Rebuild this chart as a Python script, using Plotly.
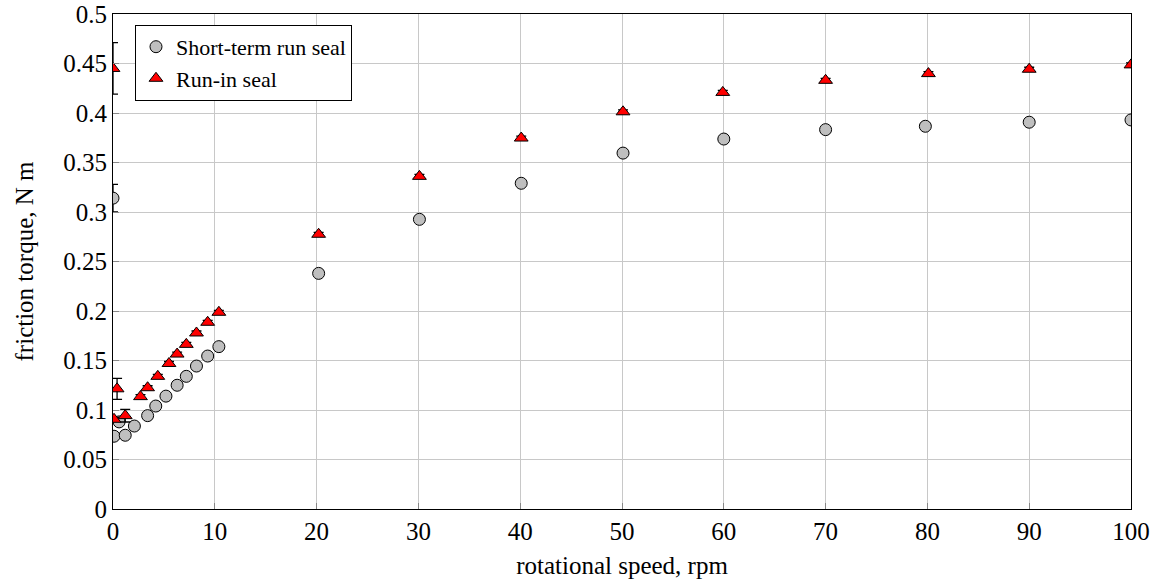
import plotly.graph_objects as go

# Short-term run seal (circles)
st_speed = [0.0, 0.1, 1.2, 0.6, 2.1, 3.4, 4.2, 5.2, 6.3, 7.2, 8.2, 9.3, 10.4,
            20.2, 30.1, 40.1, 50.1, 60.0, 70.0, 79.8, 90.0, 100.0]
st_torque = [0.314, 0.0735, 0.0745, 0.088, 0.0838, 0.0943, 0.104, 0.114, 0.125, 0.134, 0.1444, 0.1545, 0.164,
             0.238, 0.2926, 0.329, 0.3595, 0.3737, 0.3832, 0.3866, 0.3907, 0.393]
st_err = [0.014, 0.001, 0.001, 0.001, 0.001, 0.001, 0.001, 0.001, 0.001, 0.001, 0.001, 0.001, 0.001,
          0.001, 0.001, 0.001, 0.001, 0.001, 0.001, 0.001, 0.001, 0.001]

# Run-in seal (triangles)
ri_speed = [0.0, 0.4, 0.1, 1.2, 2.7, 3.4, 4.4, 5.5, 6.3, 7.2, 8.2, 9.3, 10.4,
            20.2, 30.1, 40.1, 50.1, 59.9, 70.0, 80.1, 90.0, 100.0]
ri_torque = [0.445, 0.1214, 0.0906, 0.0943, 0.1135, 0.1225, 0.134, 0.147, 0.1565, 0.1663, 0.1778, 0.1886, 0.1987,
             0.2775, 0.336, 0.3747, 0.4012, 0.4208, 0.433, 0.4398, 0.4442, 0.4486]
ri_err = [0.026, 0.0106, 0.002, 0.0064, 0.002, 0.002, 0.002, 0.002, 0.002, 0.002, 0.002, 0.002, 0.002,
          0.002, 0.002, 0.002, 0.002, 0.002, 0.002, 0.002, 0.002, 0.002]

x_ticks = [0, 10, 20, 30, 40, 50, 60, 70, 80, 90, 100]
y_ticks = [0, 0.05, 0.1, 0.15, 0.2, 0.25, 0.3, 0.35, 0.4, 0.45, 0.5]
y_ticklabels = ["0", "0.05", "0.1", "0.15", "0.2", "0.25", "0.3", "0.35", "0.4", "0.45", "0.5"]

FONT = "Liberation Serif"

fig = go.Figure()
fig.add_trace(go.Scatter(
    x=st_speed, y=st_torque, mode="markers", name="Short-term run seal",
    marker=dict(symbol="circle", size=12, color="#bfbfbf", line=dict(color="black", width=1)),
    error_y=dict(type="data", array=st_err, visible=True, color="black", thickness=1.3, width=5),
))
fig.add_trace(go.Scatter(
    x=ri_speed, y=ri_torque, mode="markers", name="Run-in seal",
    marker=dict(symbol="triangle-up", size=12, color="#ff0000", line=dict(color="black", width=1)),
    error_y=dict(type="data", array=ri_err, visible=True, color="black", thickness=1.3, width=5),
))

fig.update_layout(
    width=1152, height=588,
    margin=dict(l=113, r=21, t=14, b=79, autoexpand=False),
    paper_bgcolor="white", plot_bgcolor="white",
    font=dict(family=FONT, size=25, color="black"),
    showlegend=True,
    legend=dict(
        x=0.0216, y=0.978, xanchor="left", yanchor="top",
        bgcolor="white", bordercolor="black", borderwidth=1,
        font=dict(family=FONT, size=22, color="black"),
        itemwidth=30, tracegroupgap=0,
    ),
)
fig.update_xaxes(
    range=[0, 100], tickvals=x_ticks, ticktext=[str(v) for v in x_ticks],
    showgrid=True, gridcolor="#c8c8c8", gridwidth=1,
    showline=True, linecolor="black", linewidth=1.2, mirror=True,
    ticks="inside", ticklen=6, tickcolor="#888888",
    zeroline=False, automargin=False,
    title=dict(text="rotational speed, rpm", font=dict(family=FONT, size=25), standoff=12),
    tickfont=dict(family=FONT, size=25),
)
fig.update_yaxes(
    range=[0, 0.5], tickvals=y_ticks, ticktext=y_ticklabels,
    showgrid=True, gridcolor="#c8c8c8", gridwidth=1,
    showline=True, linecolor="black", linewidth=1.2, mirror=True,
    ticks="inside", ticklen=6, tickcolor="#888888",
    zeroline=False, automargin=False,
    title=dict(text="friction torque, N m", font=dict(family=FONT, size=25), standoff=22),
    tickfont=dict(family=FONT, size=25),
)

fig.write_html("out.html")
